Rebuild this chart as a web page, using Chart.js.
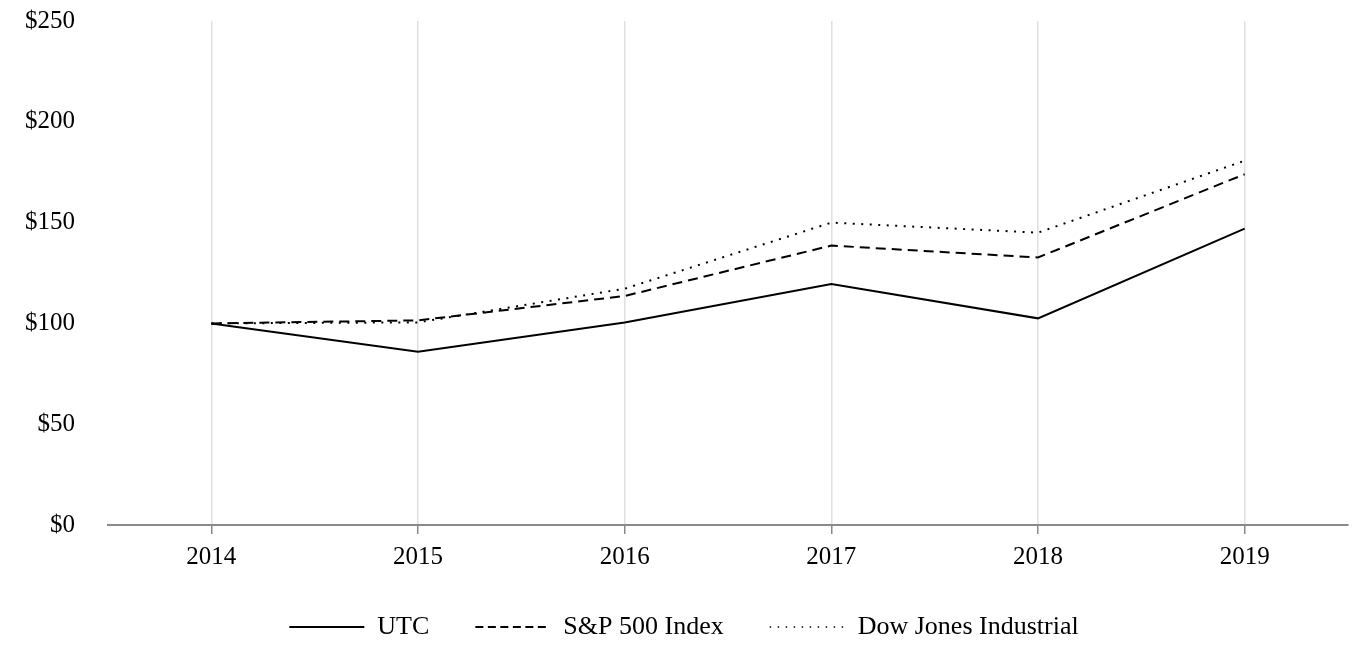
<!DOCTYPE html>
<html>
<head>
<meta charset="utf-8">
<script src="https://cdn.jsdelivr.net/npm/chart.js@4/dist/chart.umd.min.js"></script>
<style>
  html, body { margin: 0; padding: 0; background: #fff; }
  #wrap { width: 1368px; height: 666px; }
</style>
</head>
<body>
<div id="wrap"><canvas id="chart"></canvas></div>
<script>
const years = ["2014", "2015", "2016", "2017", "2018", "2019"];
const utc = [100, 86, 100.5, 119.5, 102.5, 147];
const sp500 = [100, 101.5, 113.6, 138.6, 132.7, 174];
const dowJones = [100, 100.5, 117.2, 150, 145, 180.7];
const yTicks = [0, 50, 100, 150, 200, 250];

const FONT = { family: "'Liberation Serif', 'Times New Roman', serif", size: 25 };

// legendDash: the key in the reference uses a finer pattern than the plot lines
const line = (label, data, dash, legendDash, legendWidth) => ({
  label, data, borderColor: "#000", backgroundColor: "#000",
  borderWidth: 2, borderDash: dash, pointRadius: 0, tension: 0, fill: false,
  legendDash, legendWidth,
});

new Chart(document.getElementById("chart"), {
  type: "line",
  data: {
    labels: years,
    datasets: [
      line("UTC", utc, [], [], 2),
      line("S&P 500 Index", sp500, [10, 6], [8, 4.5], 2),
      line("Dow Jones Industrial", dowJones, [2, 6.5], [1.5, 6.5], 1.5),
    ],
  },
  options: {
    responsive: true,
    maintainAspectRatio: false,
    animation: false,
    layout: { padding: { top: 0, right: 20, bottom: 16, left: 20 } },
    plugins: {
      tooltip: { enabled: false },
      legend: {
        position: "bottom",
        labels: {
          usePointStyle: true, pointStyle: "line", pointStyleWidth: 75,
          boxHeight: 2, color: "#000", font: { ...FONT, size: 26 }, padding: 46,
          generateLabels: (chart) => chart.data.datasets.map((ds, i) => ({
            text: ds.label, datasetIndex: i, pointStyle: "line",
            strokeStyle: "#000", fillStyle: "#000", fontColor: "#000",
            lineWidth: ds.legendWidth, lineDash: ds.legendDash, lineCap: "butt",
          })),
        },
      },
    },
    scales: {
      x: {
        offset: true,
        afterFit: (s) => { s.height -= 12; },
        grid: { color: "#e0e0e0", lineWidth: 1.5, tickColor: "#8a8a8a", tickLength: 9 },
        border: { color: "#8a8a8a", width: 2 },
        ticks: { color: "#000", font: FONT, padding: 8 },
      },
      y: {
        min: 0, max: 250,
        afterBuildTicks: (s) => { s.ticks = yTicks.map((v) => ({ value: v })); },
        afterFit: (s) => { s.width = 88; s.paddingTop = 21; s.paddingBottom = 0; },
        grid: { display: false, drawTicks: false },
        border: { display: false },
        ticks: { color: "#000", font: FONT, padding: 33, callback: (v) => "$" + v },
      },
    },
  },
});
</script>
</body>
</html>
